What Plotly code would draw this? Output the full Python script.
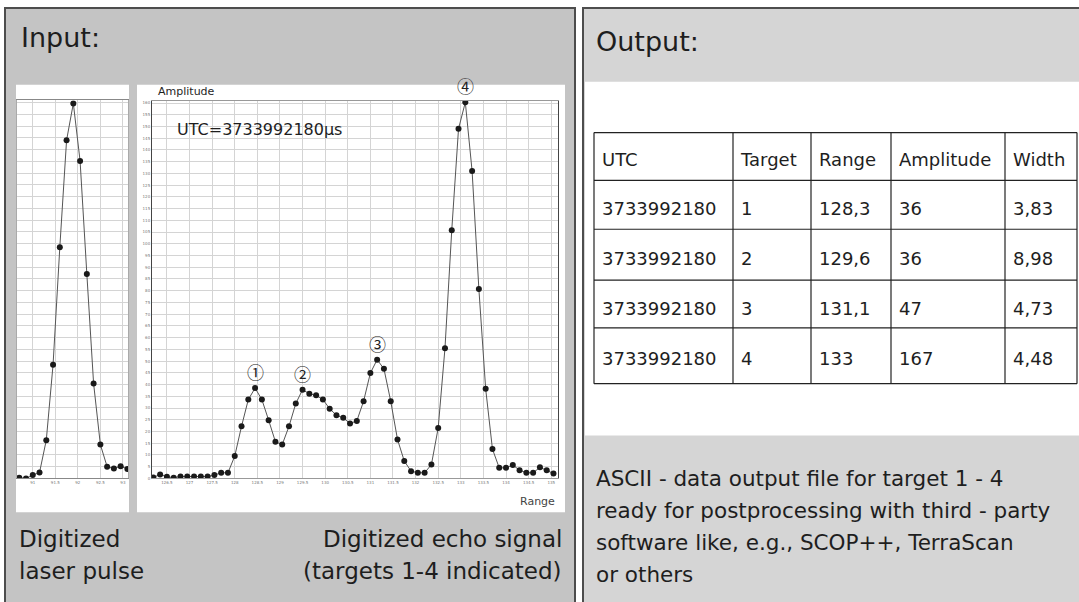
import plotly.graph_objects as go

W, H = 1079, 602

# ---------------- data ----------------
pulse_range = [90.70, 90.85, 91.00, 91.15, 91.30, 91.45, 91.60, 91.75, 91.90,
               92.05, 92.20, 92.35, 92.50, 92.65, 92.80, 92.95, 93.10]
pulse_amp = [0.3, 0.0, 1.4, 2.5, 16.3, 48.4, 98.4, 144.0, 159.7,
             135.2, 87.1, 40.4, 14.4, 5.0, 4.2, 5.2, 4.0]

echo_range = [126.20, 126.35, 126.50, 126.65, 126.80, 126.95, 127.10, 127.25, 127.40, 127.55,
              127.70, 127.85, 128.00, 128.15, 128.30, 128.45, 128.60, 128.75, 128.90, 129.05,
              129.20, 129.35, 129.50, 129.65, 129.80, 129.95, 130.10, 130.25, 130.40, 130.55,
              130.70, 130.85, 131.00, 131.15, 131.30, 131.45, 131.60, 131.75, 131.90, 132.05,
              132.20, 132.35, 132.50, 132.65, 132.80, 132.95, 133.10, 133.25, 133.40, 133.55,
              133.70, 133.85, 134.00, 134.15, 134.30, 134.45, 134.60, 134.75, 134.90, 135.05]
echo_amp = [0.4, 1.7, 0.7, 0.3, 0.8, 0.8, 0.8, 0.8, 0.8, 1.4,
            2.4, 2.4, 9.5, 22.2, 33.6, 38.5, 33.6, 24.8, 15.6, 14.4,
            22.2, 31.9, 37.8, 36.1, 35.4, 33.6, 29.7, 26.9, 25.8, 23.4,
            24.5, 32.9, 44.9, 50.6, 46.7, 32.9, 16.6, 7.4, 3.1, 2.4,
            2.4, 5.9, 21.5, 55.5, 105.8, 149.0, 160.3, 131.0, 80.7, 38.2,
            12.5, 4.5, 4.5, 5.7, 3.5, 2.4, 2.4, 4.7, 3.5, 2.1]

target_labels = ["①", "②", "③", "④"]
target_sample = [15, 22, 33, 46]

utc_text = "UTC=3733992180µs"

table_header = ["UTC", "Target", "Range", "Amplitude", "Width"]
col_utc = ["3733992180", "3733992180", "3733992180", "3733992180"]
col_target = ["1", "2", "3", "4"]
col_range = ["128,3", "129,6", "131,1", "133"]
col_amplitude = ["36", "36", "47", "167"]
col_width = ["3,83", "8,98", "4,73", "4,48"]

output_lines = ["ASCII - data output file for target 1 - 4",
                "ready for postprocessing with third - party",
                "software like, e.g., SCOP++, TerraScan",
                "or others"]

# ---------------- helpers ----------------
def px(x):
    return x / W


def py(y):
    return 1 - y / H


FONT = "DejaVu Sans"
TXT = "#1e1e1e"

fig = go.Figure()

line_style = dict(color="#555555", width=1)
marker_style = dict(color="#1a1a1a", size=6, symbol="circle")

fig.add_trace(go.Scatter(x=pulse_range, y=pulse_amp, mode="lines+markers",
                         line=line_style, marker=marker_style,
                         xaxis="x", yaxis="y", showlegend=False, hoverinfo="x+y"))
fig.add_trace(go.Scatter(x=echo_range, y=echo_amp, mode="lines+markers",
                         line=line_style, marker=marker_style,
                         xaxis="x2", yaxis="y2", showlegend=False, hoverinfo="x+y"))

# table: text laid out by go.Table, cell borders drawn as shapes so the text
# sits vertically centred in its row like the reference
fig.add_trace(go.Table(
    domain=dict(x=[px(594), px(1077)], y=[py(400), py(145)]),
    columnwidth=[139, 78, 80, 114, 72],
    header=dict(values=table_header, height=49, align="left",
                fill_color="rgba(0,0,0,0)", line=dict(color="rgba(0,0,0,0)", width=0),
                font=dict(family=FONT, size=18, color=TXT)),
    cells=dict(values=[col_utc, col_target, col_range, col_amplitude, col_width],
               height=50, align="left", fill_color="rgba(0,0,0,0)",
               line=dict(color="rgba(0,0,0,0)", width=0),
               font=dict(family=FONT, size=18, color=TXT)),
))

grid = "#d4d4d4"
tickfont = dict(family=FONT, size=4, color="#777777")

fig.update_layout(
    width=W, height=H,
    margin=dict(l=0, r=0, t=0, b=0),
    paper_bgcolor="white",
    plot_bgcolor="rgba(0,0,0,0)",
    showlegend=False,
    xaxis=dict(domain=[px(17), px(128.3)], range=[90.65, 93.12],
               tick0=91, dtick=0.5, showgrid=True, gridcolor=grid, gridwidth=1,
               zeroline=False, showline=True, linecolor="#888888", mirror=True,
               ticks="", tickfont=tickfont, anchor="y", fixedrange=True),
    yaxis=dict(domain=[py(480), py(100.7)], range=[0, 161],
               tick0=0, dtick=5, showgrid=True, gridcolor=grid, gridwidth=1,
               zeroline=False, showline=True, linecolor="#aaaaaa", mirror=True,
               showticklabels=False, ticks="", anchor="x", fixedrange=True),
    xaxis2=dict(domain=[px(152), px(558)], range=[126.17, 135.15],
                tick0=126.5, dtick=0.5, showgrid=True, gridcolor=grid, gridwidth=1,
                zeroline=False, showline=True, linecolor="#999999", mirror=True,
                ticks="", tickfont=tickfont, anchor="y2", fixedrange=True),
    yaxis2=dict(domain=[py(480), py(101)], range=[0, 161],
                tick0=0, dtick=5, showgrid=True, gridcolor=grid, gridwidth=1,
                zeroline=False, showline=True, linecolor="#444444", mirror=True,
                ticks="", tickfont=tickfont, anchor="x2", fixedrange=True),
)

# ---------------- panels ----------------
shapes = [
    dict(type="rect", xref="paper", yref="paper", x0=px(5), x1=px(575), y0=py(620), y1=py(8),
         fillcolor="#c4c4c4", line=dict(color="#4d4d4d", width=2), layer="below"),
    dict(type="rect", xref="paper", yref="paper", x0=px(583), x1=px(1095), y0=py(620), y1=py(8),
         fillcolor="#d5d5d5", line=dict(color="#4d4d4d", width=2), layer="below"),
    dict(type="rect", xref="paper", yref="paper", x0=px(585), x1=px(1079), y0=py(437), y1=py(82),
         fillcolor="white", line=dict(width=0), layer="below"),
    dict(type="rect", xref="paper", yref="paper", x0=px(16), x1=px(129), y0=py(514), y1=py(85),
         fillcolor="white", line=dict(width=0), layer="below"),
    dict(type="rect", xref="paper", yref="paper", x0=px(137), x1=px(565), y0=py(514), y1=py(85),
         fillcolor="white", line=dict(width=0), layer="below"),
]
row_edges = [133, 181, 230, 281, 329, 385]
col_edges = [594, 733, 811, 891, 1005, 1077]
for yv in row_edges:
    shapes.append(dict(type="line", xref="paper", yref="paper",
                       x0=px(col_edges[0]), x1=px(col_edges[-1]), y0=py(yv), y1=py(yv),
                       line=dict(color="#222222", width=1.2), layer="above"))
for xv in col_edges:
    shapes.append(dict(type="line", xref="paper", yref="paper",
                       x0=px(xv), x1=px(xv), y0=py(row_edges[0]), y1=py(row_edges[-1]),
                       line=dict(color="#222222", width=1.2), layer="above"))
fig.update_layout(shapes=shapes)

ann = []


def txt(text, x, y, size, anchor="left", color=TXT):
    ann.append(dict(text=text, x=px(x), y=py(y), xref="paper", yref="paper",
                    xanchor=anchor, yanchor="middle", showarrow=False,
                    font=dict(family=FONT, size=size, color=color)))


txt("Input:", 19, 38, 27)
txt("Output:", 594, 42, 27)
txt("Digitized", 17, 541, 23)
txt("laser pulse", 17, 573, 23)
txt("Digitized echo signal", 564, 541, 23, anchor="right")
txt("(targets 1-4 indicated)", 564, 573, 23, anchor="right")
for k, line in enumerate(output_lines):
    txt(line, 594, 480 + 32 * k, 21.5)
txt(utc_text, 175, 130, 16)
txt("Amplitude", 156, 92, 11)
txt("Range", 557, 503, 11, anchor="right", color="#444444")

for lab, idx in zip(target_labels, target_sample):
    ann.append(dict(text=lab, x=echo_range[idx], y=echo_amp[idx], xref="x2", yref="y2",
                    xanchor="center", yanchor="bottom", yshift=2, showarrow=False,
                    font=dict(family="Noto Sans CJK JP", size=17, color="#222222")))

fig.update_layout(annotations=ann)

fig.write_html("out.html")
